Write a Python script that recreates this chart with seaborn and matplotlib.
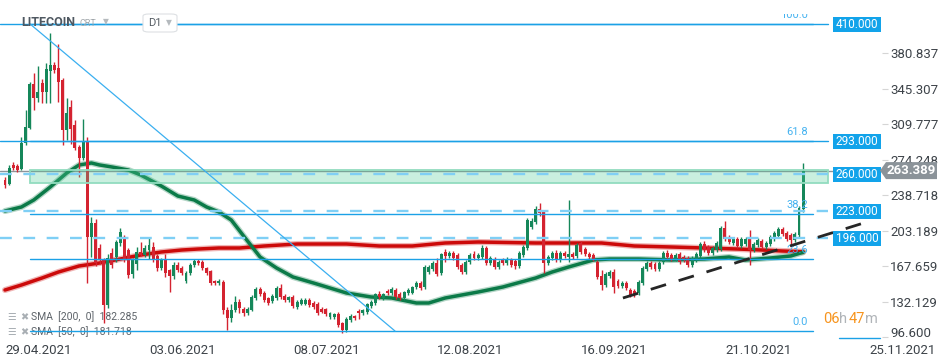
import numpy as np
import pandas as pd
import seaborn as sns
import matplotlib.pyplot as plt
from matplotlib.patches import Rectangle, FancyBboxPatch, Polygon
from matplotlib.lines import Line2D

# LITECOIN daily candles, first one is 29.04.2021 (day 0)
opens = [254, 250, 269, 268, 265, 291, 306, 350, 336, 351,
         342, 363, 369, 366, 354, 304, 327, 309, 287, 276,
         292, 197, 211, 186, 174, 129, 181, 177, 191, 196,
         184, 160, 170, 182, 179, 184, 187, 178, 166, 174,
         164, 158, 169, 166, 153, 161, 169, 173, 172, 166,
         163, 153, 151, 152, 124, 116, 124, 132, 125, 121,
         124, 136, 145, 141, 136, 133, 136, 146, 138, 134,
         137, 127, 130, 130, 134, 131, 130, 125, 125, 117,
         117, 120, 111, 104, 114, 118, 123, 121, 122, 128,
         131, 140, 136, 143, 141, 144, 140, 136, 141, 141,
         147, 151, 147, 162, 165, 171, 161, 182, 178, 181,
         179, 169, 162, 172, 180, 176, 177, 186, 171, 175,
         167, 174, 171, 174, 173, 168, 179, 186, 207, 212,
         225, 223, 171, 176, 181, 174, 181, 177, 180, 178,
         191, 185, 180, 179, 172, 158, 149, 158, 162, 153,
         148, 151, 144, 143, 141, 151, 165, 171, 170, 165,
         172, 181, 179, 175, 180, 177, 176, 169, 174, 178,
         190, 187, 181, 184, 185, 206, 197, 191, 195, 188,
         190, 195, 184, 189, 193, 187, 190, 195, 198, 205,
         201, 199, 194, 199, 225]
highs = [257, 269, 272, 270, 297, 324, 352, 361, 368, 355,
         371, 401, 372, 390, 356, 336, 334, 314, 289, 315,
         297, 217, 215, 190, 176, 180, 186, 194, 206, 199,
         186, 176, 187, 192, 189, 196, 192, 180, 176, 180,
         165, 172, 172, 168, 163, 171, 175, 175, 174, 167,
         164, 154, 155, 154, 127, 130, 138, 135, 127, 127,
         139, 147, 147, 143, 137, 140, 148, 150, 140, 138,
         139, 134, 136, 136, 136, 133, 132, 127, 126, 122,
         121, 122, 112, 117, 120, 119, 125, 125, 131, 134,
         141, 143, 141, 145, 147, 146, 142, 143, 146, 148,
         153, 153, 169, 169, 173, 176, 181, 185, 183, 183,
         181, 171, 174, 181, 183, 181, 189, 188, 178, 177,
         174, 176, 177, 176, 175, 183, 189, 216, 216, 228,
         231, 224, 179, 183, 184, 183, 183, 234, 182, 191,
         193, 187, 182, 181, 174, 164, 162, 164, 165, 155,
         153, 153, 146, 145, 154, 168, 173, 173, 172, 173,
         183, 184, 181, 181, 182, 179, 178, 178, 182, 192,
         193, 189, 188, 193, 208, 213, 199, 197, 197, 197,
         197, 204, 192, 196, 195, 193, 199, 203, 207, 207,
         203, 201, 202, 228, 271]
lows = [246, 249, 264, 262, 264, 289, 305, 324, 332, 331,
        331, 331, 361, 332, 289, 294, 290, 284, 257, 274,
        151, 177, 168, 170, 111, 126, 166, 172, 188, 172,
        156, 156, 164, 178, 177, 175, 172, 163, 164, 157,
        142, 155, 162, 159, 151, 159, 167, 169, 164, 159,
        149, 149, 149, 120, 104, 112, 122, 121, 118, 119,
        123, 134, 138, 132, 129, 131, 134, 135, 132, 132,
        126, 125, 129, 129, 127, 125, 119, 121, 118, 115,
        115, 107, 101, 102, 112, 114, 115, 119, 120, 126,
        129, 135, 134, 139, 139, 135, 134, 134, 139, 140,
        145, 144, 145, 160, 163, 158, 159, 172, 176, 174,
        165, 160, 160, 170, 174, 174, 175, 169, 169, 165,
        165, 169, 169, 167, 165, 166, 177, 184, 205, 210,
        218, 161, 169, 174, 172, 172, 176, 172, 175, 176,
        180, 178, 175, 173, 155, 144, 147, 156, 141, 146,
        146, 144, 137, 137, 139, 149, 163, 165, 163, 163,
        170, 175, 173, 173, 170, 172, 167, 167, 172, 176,
        182, 179, 179, 182, 183, 193, 190, 189, 186, 186,
        188, 169, 182, 187, 185, 185, 188, 193, 196, 198,
        193, 188, 192, 197, 222]
closes = [249, 266, 266, 264, 291, 307, 350, 336, 342, 342,
          365, 369, 364, 352, 304, 321, 305, 286, 276, 292,
          197, 211, 171, 174, 129, 176, 169, 192, 202, 174,
          159, 174, 182, 179, 186, 189, 174, 166, 174, 161,
          158, 169, 164, 161, 161, 169, 173, 171, 166, 161,
          151, 151, 153, 124, 116, 124, 132, 126, 121, 125,
          137, 145, 140, 134, 131, 138, 146, 137, 134, 137,
          128, 132, 134, 134, 129, 127, 121, 122, 120, 121,
          120, 109, 104, 115, 118, 116, 121, 124, 130, 132,
          140, 137, 140, 141, 145, 137, 136, 142, 144, 147,
          151, 146, 167, 167, 171, 160, 180, 178, 181, 176,
          167, 162, 172, 179, 176, 179, 186, 171, 176, 167,
          172, 171, 175, 169, 168, 181, 187, 214, 213, 225,
          221, 171, 177, 181, 174, 181, 178, 180, 177, 189,
          182, 180, 177, 175, 157, 149, 160, 162, 147, 148,
          151, 146, 139, 139, 152, 166, 171, 167, 165, 171,
          181, 177, 175, 179, 172, 174, 169, 176, 180, 190,
          184, 181, 186, 191, 206, 195, 192, 195, 188, 195,
          195, 184, 190, 194, 187, 191, 197, 201, 205, 200,
          195, 194, 200, 226, 263.389]

# moving averages (day, value)
sma50_day = [0, 4, 7, 11, 15, 18, 21, 23, 26, 30, 33, 38, 42, 46, 49, 52, 55, 58, 62, 66,
             70, 75, 83, 89, 94, 100, 103, 107, 111, 115, 121, 129, 133, 137, 143, 147,
             154, 162, 170, 176, 180, 186, 191, 194]
sma50_val = [223, 227, 234, 247, 261, 269, 271, 269, 267, 264, 259, 248, 238, 234, 227, 222,
             214, 198, 177, 166, 157, 151, 141, 137, 136, 131, 131, 136, 139, 142, 147, 156,
             162, 167, 174, 175, 175, 174, 175, 177, 174, 176, 178, 181.718]
sma200_day = [0, 4, 9, 13, 18, 23, 28, 33, 38, 43, 47, 52, 57, 63, 71, 83, 91, 99, 107, 115,
              129, 145, 153, 162, 170, 178, 184, 189, 194]
sma200_val = [144, 149, 156, 162, 168, 171, 175, 179, 182, 184, 185, 186, 186, 188, 190, 190,
              188, 188, 191, 192, 191, 191, 188, 187, 186, 185, 184, 183, 182.285]

solid_levels = [410, 293]
dashed_levels = [260, 223, 196]
box_levels = [410, 293, 260, 223, 196]
fib_ratios = [100.0, 61.8, 38.2, 23.6, 0.0]
fib_top, fib_bottom = 410, 103
fib_day0, fib_day1 = 6.1, 94.8
zone_low, zone_high = 251, 264
trend_day = [150.2, 209.5]
trend_val = [136, 212]
last_price = 263.389

tick_days = [0, 35, 70, 105, 140, 175, 210]
tick_dates = ['29.04.2021', '03.06.2021', '08.07.2021', '12.08.2021',
              '16.09.2021', '21.10.2021', '25.11.2021']
price_ticks = [96.600, 132.129, 167.659, 203.189, 238.718, 274.248, 309.777, 345.307, 380.837]

plt.rcParams['lines.scale_dashes'] = False
sns.set_style('white')
plt.rcParams['font.family'] = ['Roboto', 'DejaVu Sans']

fig = plt.figure(figsize=(9.5, 3.64), dpi=100)
ax = fig.add_axes([0, 26 / 364, 882 / 950, 324 / 364])

df = pd.DataFrame({'day': np.arange(len(closes)), 'open': opens, 'high': highs,
                   'low': lows, 'close': closes})
green, red = '#15875a', '#d42330'
cols = np.where(df['close'] >= df['open'], green, red)
ax.vlines(df['day'], df['low'], df['high'], colors=cols, lw=1, zorder=3)
ax.bar(df['day'], (df['close'] - df['open']).abs(), bottom=df[['open', 'close']].min(axis=1),
       width=0.72, color=cols, linewidth=0, zorder=3)

sma50 = pd.DataFrame({'day': sma50_day, 'value': sma50_val})
sma200 = pd.DataFrame({'day': sma200_day, 'value': sma200_val})
for lw, a in [(4.4, 0.3), (2.5, 1.0)]:
    sns.lineplot(data=sma200, x='day', y='value', color='#cc0a0a', lw=lw, alpha=a,
                 ax=ax, zorder=2.6, legend=False)
    sns.lineplot(data=sma50, x='day', y='value', color='#0b7a48', lw=lw, alpha=a,
                 ax=ax, zorder=2.6, legend=False)

blue = '#1ba1e6'
ax.axhline(last_price, color='#8d949a', lw=1, zorder=2)
for v in solid_levels:
    ax.plot([-1.3, 200], [v, v], color=blue, lw=1, zorder=5)
for v in dashed_levels:
    ax.plot([-1.3, 200], [v, v], color='#7fcff5', lw=1.7, ls=(0, (8.5, 8.3)), zorder=5)

# fibonacci retracement
for r in fib_ratios:
    v = fib_bottom + r / 100 * (fib_top - fib_bottom)
    ax.plot([fib_day0, 196.4], [v, v], color=blue, lw=1, zorder=5)
    ax.text(195.2, v + 4, f'{r:.1f}', color='#44b2f0', fontsize=8, ha='right', va='bottom',
            zorder=6, clip_on=True)
ax.plot([fib_day0, fib_day1], [fib_top, fib_bottom], color='#3aaff0', lw=0.9, zorder=5)

ax.add_patch(Rectangle((fib_day0, zone_low), 200 - fib_day0, zone_high - zone_low,
                       facecolor=(0.31, 0.8, 0.59, 0.3), edgecolor='#92dcbf', lw=1.3, zorder=4))

ax.plot(trend_day, trend_val, color='#262626', lw=2, ls=(0, (11.5, 9.5)), zorder=6)

# price boxes at the right edge
ytr = ax.get_yaxis_transform()
for v in box_levels:
    ax.add_patch(Rectangle((833 / 882, v - 7.5), 48 / 882, 15, transform=ytr,
                           facecolor='#12a3ea', edgecolor='none', clip_on=False, zorder=7))
    ax.text(857 / 882, v, f'{v:.3f}', transform=ytr, color='white', fontsize=8.5,
            ha='center', va='center', zorder=8, clip_on=False)
ax.add_patch(Polygon([(880 / 882, last_price), (886 / 882, last_price + 8.5),
                      (937 / 882, last_price + 8.5), (937 / 882, last_price - 8.5),
                      (886 / 882, last_price - 8.5)], closed=True, transform=ytr,
                     facecolor='#8b9399', edgecolor='none', clip_on=False, zorder=7))
ax.text(911 / 882, last_price, f'{last_price:.3f}', transform=ytr, color='white',
        fontsize=9.5, fontweight='bold', ha='center', va='center', zorder=8, clip_on=False)

ax.set_xlim(-5 / 4.114, 877 / 4.114)
ax.set_ylim(96, 420)
for s in ax.spines.values():
    s.set_visible(False)
ax.set_xlabel('')
ax.set_ylabel('')

ax.yaxis.tick_right()
ax.set_yticks(price_ticks, [f'{p:.3f}' for p in price_ticks])
ax.tick_params(axis='y', length=4, width=0.8, color='#d5d5d5', pad=2, labelsize=9.5,
               labelcolor='#3d4349')
ax.get_yticklabels()[0].set_va('baseline')
ax.set_xticks(tick_days, tick_dates)
ax.tick_params(axis='x', length=2, width=0.8, color='#d5d5d5', pad=2, labelsize=9.5,
               labelcolor='#3d4349')
for lbl in ax.get_xticklabels():
    lbl.set_ha('left')

# SMA legend, bottom left
for k, (txt, py) in enumerate([('SMA  [200,  0]  182.285', 317), ('SMA  [50,  0]  181.718', 332)]):
    yy = (338 - py) / 324
    ax.text(7 / 882, yy, '\u2630', transform=ax.transAxes, color='#a9afb4', fontsize=7,
            va='center', zorder=1, family=['DejaVu Sans'])
    ax.text(20 / 882, yy, '\u2716', transform=ax.transAxes, color='#a9afb4', fontsize=7,
            va='center', zorder=1, family=['DejaVu Sans'])
    ax.text(31 / 882, yy, txt, transform=ax.transAxes, color='#5d6369', fontsize=7.5,
            va='center', zorder=1)

# header
fig.text(21 / 950, 1 - 23 / 364, 'LITECOIN', color='#4f5861', fontsize=9, fontweight='bold',
         va='center')
fig.text(80 / 950, 1 - 24 / 364, 'CRT', color='#a0a6ab', fontsize=6.5, va='center')
fig.text(103 / 950, 1 - 22 / 364, '\u25bc', color='#b5babe', fontsize=5.5, va='center',
         family=['DejaVu Sans'])
fig.add_artist(FancyBboxPatch((143 / 950, 1 - 32 / 364), 34 / 950, 18 / 364,
                              boxstyle='round,pad=0,rounding_size=0.006',
                              transform=fig.transFigure, facecolor='white',
                              edgecolor='#dde0e3', lw=0.8))
fig.text(148 / 950, 1 - 23.5 / 364, 'D1', color='#555c63', fontsize=8, va='center')
fig.text(166 / 950, 1 - 23 / 364, '\u25bc', color='#b5babe', fontsize=5.5, va='center',
         family=['DejaVu Sans'])

# candle countdown
yy = 1 - 319 / 364
fig.text(823 / 950, yy, '06', color='#f7941d', fontsize=10.5, va='center')
fig.text(839 / 950, yy, 'h', color='#b0b4b8', fontsize=10.5, va='center')
fig.text(849 / 950, yy, '47', color='#f7941d', fontsize=10.5, va='center')
fig.text(865 / 950, yy, 'm', color='#b0b4b8', fontsize=10.5, va='center')
fig.add_artist(Line2D([839 / 950, 880 / 950], [1 - 338 / 364] * 2, color=blue, lw=1))

fig.savefig('out.png', dpi=100, facecolor='white')
